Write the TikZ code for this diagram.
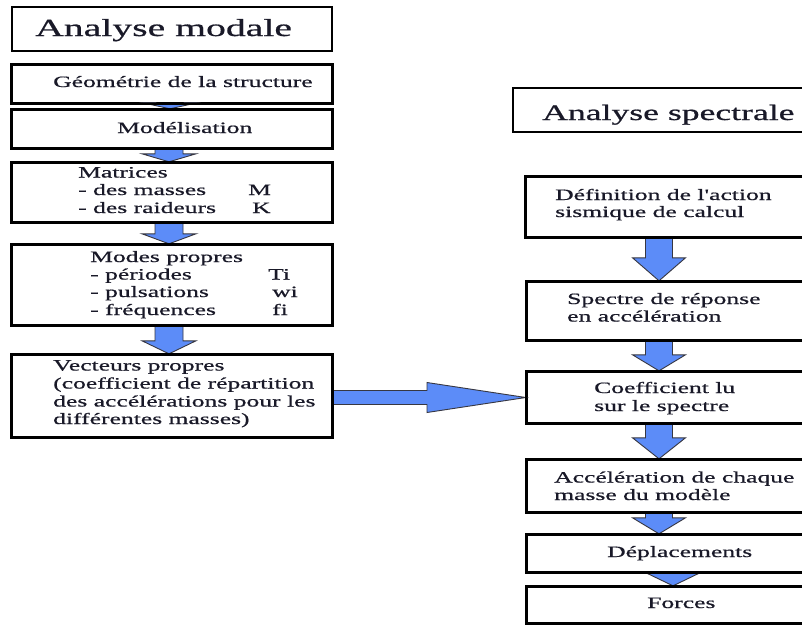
\documentclass[tikz,border=0pt]{standalone}
\usepackage{fontspec}
\usetikzlibrary{calc}
\newfontfamily\widefont{Liberation Serif}[FakeStretch=1.62,FakeBold=0.7]
\definecolor{arrowblue}{RGB}{92,140,248}
\definecolor{arrowedge}{RGB}{55,55,65}
\definecolor{txt}{RGB}{25,25,40}
\tikzset{
  box/.style={draw=black, line width=2.4pt, fill=white, rectangle, inner sep=0pt},
  barrow/.style={fill=arrowblue, draw=arrowedge, line width=0.9pt, line join=miter},
  lbl/.style={anchor=base west, inner sep=0pt, text=txt, font=\widefont\fontsize{15.8}{17.7}\selectfont},
  ttl/.style={anchor=base west, inner sep=0pt, text=txt},
}
\newcommand\bdown[6]{% from, to, cx, head length, shaft half, head half
  \filldraw[barrow] let \p1=(#1.south), \p2=(#2.north) in
    ({#3pt-#5pt},\y1) -- ({#3pt+#5pt},\y1) -- ({#3pt+#5pt},{\y2+#4pt}) --
    ({#3pt+#6pt},{\y2+#4pt}) -- (#3pt,\y2) -- ({#3pt-#6pt},{\y2+#4pt}) --
    ({#3pt-#5pt},{\y2+#4pt}) -- cycle;}
\begin{document}
\begin{tikzpicture}[x=1pt,y=-1pt]
\useasboundingbox (0,0) rectangle (802,625);
\fill[white] (0,0) rectangle (802,625);
\clip (0,0) rectangle (802,625);
% left column boxes
\node[box, minimum width=320pt, minimum height=44pt] (tmod) at (172,29) {};
\node[box, minimum width=320pt, minimum height=38pt] (geo) at (172,84) {};
\node[box, minimum width=320pt, minimum height=38pt] (mod) at (172,129) {};
\node[box, minimum width=320pt, minimum height=59pt] (mat) at (172,192.5) {};
\node[box, minimum width=320pt, minimum height=80pt] (modes) at (172,285) {};
\node[box, minimum width=320pt, minimum height=82pt] (vec) at (172,396) {};
% right column boxes
\node[box, minimum width=327pt, minimum height=44pt] (tspec) at (676.5,110) {};
\node[box, minimum width=314pt, minimum height=60pt] (def) at (683,207) {};
\node[box, minimum width=313pt, minimum height=58pt] (spe) at (683.5,311) {};
\node[box, minimum width=313pt, minimum height=51pt] (coef) at (683.5,397.5) {};
\node[box, minimum width=313pt, minimum height=52pt] (acc) at (683.5,486) {};
\node[box, minimum width=313pt, minimum height=37pt] (dep) at (683.5,553.5) {};
\node[box, minimum width=313pt, minimum height=36pt] (forc) at (683.5,605) {};
% arrows left
\bdown{geo}{mod}{170}{6}{14}{27}
\bdown{mod}{mat}{169}{8}{14}{27}
\bdown{mat}{modes}{169}{10}{14}{27}
\bdown{modes}{vec}{169}{13}{14}{27}
% arrows right
\bdown{def}{spe}{659}{23}{13.5}{26.5}
\bdown{spe}{coef}{659}{16}{13.5}{26.5}
\bdown{coef}{acc}{659}{21}{13.5}{26.5}
\bdown{acc}{dep}{659}{16}{13.5}{26.5}
\bdown{dep}{forc}{673}{13}{13.5}{27}
% horizontal arrow
\filldraw[barrow] let \p1=(vec.east), \p2=(coef.west) in
  (\x1,{\y2-7pt}) -- (427,{\y2-7pt}) -- (427,{\y2-15pt}) -- (\x2,\y2) --
  (427,{\y2+15pt}) -- (427,{\y2+7pt}) -- (\x1,{\y2+7pt}) -- cycle;
% redraw borders over arrow ends
\foreach \n in {geo,mod,mat,modes,vec,def,spe,coef,acc,dep,forc}{\draw[line width=2.4pt] (\n.north west) rectangle (\n.south east);}
% titles
\node[ttl, font=\widefont\fontsize{24.5}{28}\selectfont] (t1) at (35,36) {Analyse modale};
\node[ttl, font=\widefont\fontsize{22}{26}\selectfont] (t2) at (542,120) {Analyse spectrale};
% left texts
\node[lbl] (g1) at (53,87) {Géométrie de la structure};
\node[lbl] (m1) at (117,133) {Modélisation};
\node[lbl] (a1) at (78,177.5) {Matrices};
\node[lbl] (a2) at (78,195) {- des masses};
\node[lbl] (a3) at (248,195) {M};
\node[lbl] (a4) at (78,213) {- des raideurs};
\node[lbl] (a5) at (252,213) {K};
\node[lbl] (b1) at (90,262) {Modes propres};
\node[lbl] (b2) at (90,279.5) {- périodes};
\node[lbl] (b3) at (268,279.5) {Ti};
\node[lbl] (b4) at (90,297) {- pulsations};
\node[lbl] (b5) at (272,297) {wi};
\node[lbl] (b6) at (90,315) {- fréquences};
\node[lbl] (b7) at (272,315) {fi};
\node[lbl] (c1) at (53,370.5) {Vecteurs propres};
\node[lbl] (c2) at (53,388.5) {(coefficient de répartition};
\node[lbl] (c3) at (53,406.5) {des accélérations pour les};
\node[lbl] (c4) at (53,424) {différentes masses)};
% right texts
\node[lbl] (d1) at (555,200) {Définition de l'action};
\node[lbl] (d2) at (555,217) {sismique de calcul};
\node[lbl] (e1) at (567,304) {Spectre de réponse};
\node[lbl] (e2) at (567,321.5) {en accélération};
\node[lbl] (f1) at (594,393) {Coefficient lu};
\node[lbl] (f2) at (594,411) {sur le spectre};
\node[lbl] (h1) at (554,482.5) {Accélération de chaque};
\node[lbl] (h2) at (554,500) {masse du modèle};
\node[lbl] (i1) at (607,557) {Déplacements};
\node[lbl] (j1) at (647,608) {Forces};
\end{tikzpicture}
\end{document}
